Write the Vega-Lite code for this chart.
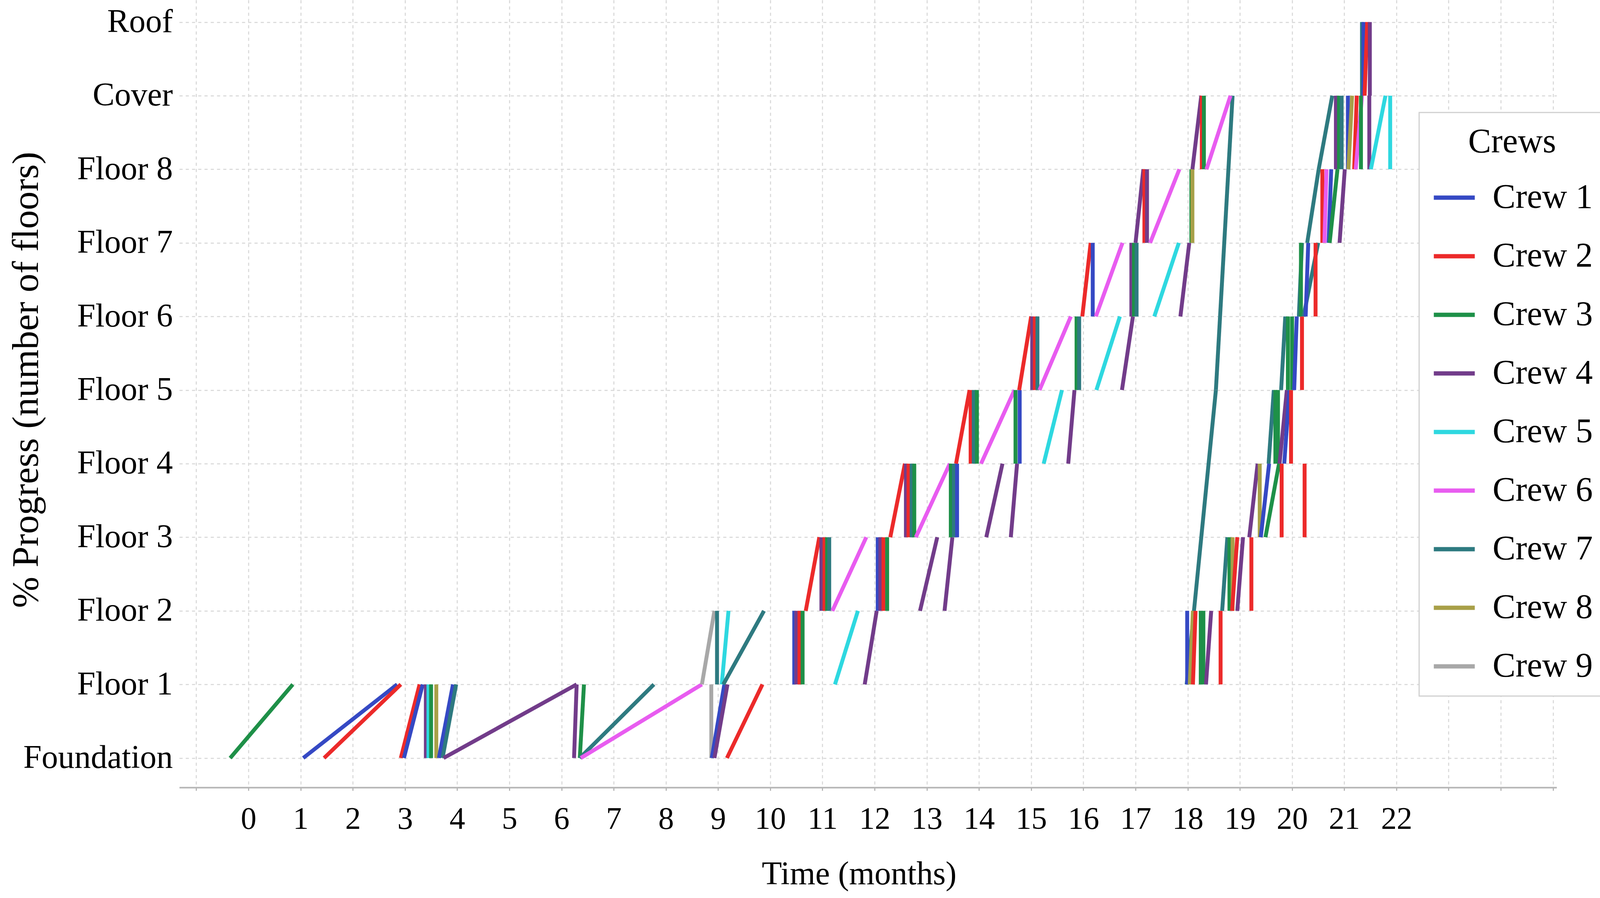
{
  "$schema": "https://vega.github.io/schema/vega-lite/v6.json",
  "width": 3526,
  "height": 2016,
  "autosize": {"type": "none"},
  "padding": {"left": 459, "top": 0, "right": 192, "bottom": 283},
  "background": "white",
  "config": {
    "view": {"stroke": null},
    "font": "Liberation Serif",
    "legend": {"strokeWidth": 3}
  },
  "data": {
    "values": [
      {"crew": "Crew 3", "t0": -0.35, "f0": 0, "t1": 0.85, "f1": 1},
      {"crew": "Crew 1", "t0": 1.05, "f0": 0, "t1": 2.85, "f1": 1},
      {"crew": "Crew 2", "t0": 1.45, "f0": 0, "t1": 2.92, "f1": 1},
      {"crew": "Crew 2", "t0": 2.92, "f0": 0, "t1": 3.28, "f1": 1},
      {"crew": "Crew 1", "t0": 2.98, "f0": 0, "t1": 3.34, "f1": 1},
      {"crew": "Crew 4", "t0": 3.4, "f0": 1, "t1": 3.4, "f1": 0},
      {"crew": "Crew 5", "t0": 3.45, "f0": 1, "t1": 3.45, "f1": 0},
      {"crew": "Crew 3", "t0": 3.5, "f0": 1, "t1": 3.5, "f1": 0},
      {"crew": "Crew 8", "t0": 3.6, "f0": 1, "t1": 3.6, "f1": 0},
      {"crew": "Crew 1", "t0": 3.65, "f0": 0, "t1": 3.92, "f1": 1},
      {"crew": "Crew 7", "t0": 3.72, "f0": 0, "t1": 3.98, "f1": 1},
      {"crew": "Crew 4", "t0": 3.74, "f0": 0, "t1": 6.29, "f1": 1},
      {"crew": "Crew 4", "t0": 6.29, "f0": 1, "t1": 6.24, "f1": 0},
      {"crew": "Crew 3", "t0": 6.43, "f0": 1, "t1": 6.35, "f1": 0},
      {"crew": "Crew 7", "t0": 6.35, "f0": 0, "t1": 7.77, "f1": 1},
      {"crew": "Crew 6", "t0": 6.37, "f0": 0, "t1": 8.69, "f1": 1},
      {"crew": "Crew 9", "t0": 8.87, "f0": 0, "t1": 8.87, "f1": 1},
      {"crew": "Crew 1", "t0": 8.88, "f0": 0, "t1": 9.12, "f1": 1},
      {"crew": "Crew 4", "t0": 8.93, "f0": 0, "t1": 9.18, "f1": 1},
      {"crew": "Crew 2", "t0": 9.17, "f0": 0, "t1": 9.85, "f1": 1},

      {"crew": "Crew 9", "t0": 8.69, "f0": 1, "t1": 8.93, "f1": 2},
      {"crew": "Crew 7", "t0": 8.98, "f0": 2, "t1": 8.98, "f1": 1},
      {"crew": "Crew 5", "t0": 9.2, "f0": 2, "t1": 9.07, "f1": 1},
      {"crew": "Crew 7", "t0": 9.1, "f0": 1, "t1": 9.88, "f1": 2},
      {"crew": "Crew 1", "t0": 10.46, "f0": 1, "t1": 10.46, "f1": 2},
      {"crew": "Crew 4", "t0": 10.5, "f0": 1, "t1": 10.5, "f1": 2},
      {"crew": "Crew 2", "t0": 10.56, "f0": 1, "t1": 10.56, "f1": 2},
      {"crew": "Crew 3", "t0": 10.62, "f0": 1, "t1": 10.62, "f1": 2},
      {"crew": "Crew 5", "t0": 11.24, "f0": 1, "t1": 11.68, "f1": 2},
      {"crew": "Crew 4", "t0": 11.81, "f0": 1, "t1": 12.04, "f1": 2},
      {"crew": "Crew 7", "t0": 17.98, "f0": 1, "t1": 18.54, "f1": 5},
      {"crew": "Crew 7", "t0": 18.54, "f0": 5, "t1": 18.86, "f1": 9},
      {"crew": "Crew 1", "t0": 17.99, "f0": 1, "t1": 17.99, "f1": 2},
      {"crew": "Crew 8", "t0": 18.04, "f0": 1, "t1": 18.1, "f1": 2},
      {"crew": "Crew 2", "t0": 18.1, "f0": 1, "t1": 18.15, "f1": 2},
      {"crew": "Crew 3", "t0": 18.25, "f0": 1, "t1": 18.25, "f1": 2},
      {"crew": "Crew 3", "t0": 18.3, "f0": 1, "t1": 18.3, "f1": 2},
      {"crew": "Crew 4", "t0": 18.35, "f0": 1, "t1": 18.45, "f1": 2},
      {"crew": "Crew 2", "t0": 18.63, "f0": 1, "t1": 18.63, "f1": 2},

      {"crew": "Crew 2", "t0": 10.68, "f0": 2, "t1": 10.94, "f1": 3},
      {"crew": "Crew 4", "t0": 10.98, "f0": 3, "t1": 10.98, "f1": 2},
      {"crew": "Crew 2", "t0": 11.04, "f0": 3, "t1": 11.04, "f1": 2},
      {"crew": "Crew 3", "t0": 11.09, "f0": 3, "t1": 11.09, "f1": 2},
      {"crew": "Crew 7", "t0": 11.13, "f0": 3, "t1": 11.13, "f1": 2},
      {"crew": "Crew 6", "t0": 11.19, "f0": 2, "t1": 11.84, "f1": 3},
      {"crew": "Crew 1", "t0": 12.06, "f0": 2, "t1": 12.06, "f1": 3},
      {"crew": "Crew 4", "t0": 12.11, "f0": 2, "t1": 12.11, "f1": 3},
      {"crew": "Crew 2", "t0": 12.17, "f0": 2, "t1": 12.17, "f1": 3},
      {"crew": "Crew 3", "t0": 12.24, "f0": 2, "t1": 12.24, "f1": 3},
      {"crew": "Crew 4", "t0": 12.87, "f0": 2, "t1": 13.2, "f1": 3},
      {"crew": "Crew 4", "t0": 13.34, "f0": 2, "t1": 13.49, "f1": 3},
      {"crew": "Crew 7", "t0": 18.66, "f0": 2, "t1": 18.76, "f1": 3},
      {"crew": "Crew 3", "t0": 18.8, "f0": 2, "t1": 18.8, "f1": 3},
      {"crew": "Crew 8", "t0": 18.86, "f0": 2, "t1": 18.86, "f1": 3},
      {"crew": "Crew 2", "t0": 18.85, "f0": 2, "t1": 18.95, "f1": 3},
      {"crew": "Crew 4", "t0": 18.95, "f0": 2, "t1": 19.06, "f1": 3},
      {"crew": "Crew 2", "t0": 19.22, "f0": 2, "t1": 19.22, "f1": 3},

      {"crew": "Crew 2", "t0": 12.3, "f0": 3, "t1": 12.58, "f1": 4},
      {"crew": "Crew 4", "t0": 12.6, "f0": 4, "t1": 12.6, "f1": 3},
      {"crew": "Crew 2", "t0": 12.65, "f0": 4, "t1": 12.65, "f1": 3},
      {"crew": "Crew 7", "t0": 12.71, "f0": 4, "t1": 12.71, "f1": 3},
      {"crew": "Crew 3", "t0": 12.76, "f0": 4, "t1": 12.76, "f1": 3},
      {"crew": "Crew 6", "t0": 12.79, "f0": 3, "t1": 13.44, "f1": 4},
      {"crew": "Crew 3", "t0": 13.46, "f0": 3, "t1": 13.46, "f1": 4},
      {"crew": "Crew 7", "t0": 13.52, "f0": 3, "t1": 13.52, "f1": 4},
      {"crew": "Crew 1", "t0": 13.58, "f0": 3, "t1": 13.58, "f1": 4},
      {"crew": "Crew 4", "t0": 14.14, "f0": 3, "t1": 14.45, "f1": 4},
      {"crew": "Crew 4", "t0": 14.61, "f0": 3, "t1": 14.73, "f1": 4},
      {"crew": "Crew 4", "t0": 19.18, "f0": 3, "t1": 19.34, "f1": 4},
      {"crew": "Crew 8", "t0": 19.38, "f0": 3, "t1": 19.38, "f1": 4},
      {"crew": "Crew 1", "t0": 19.4, "f0": 3, "t1": 19.56, "f1": 4},
      {"crew": "Crew 3", "t0": 19.49, "f0": 3, "t1": 19.75, "f1": 4},
      {"crew": "Crew 2", "t0": 19.8, "f0": 3, "t1": 19.8, "f1": 4},
      {"crew": "Crew 2", "t0": 20.24, "f0": 3, "t1": 20.24, "f1": 4},

      {"crew": "Crew 2", "t0": 13.56, "f0": 4, "t1": 13.82, "f1": 5},
      {"crew": "Crew 2", "t0": 13.84, "f0": 5, "t1": 13.84, "f1": 4},
      {"crew": "Crew 7", "t0": 13.9, "f0": 5, "t1": 13.9, "f1": 4},
      {"crew": "Crew 3", "t0": 13.96, "f0": 5, "t1": 13.96, "f1": 4},
      {"crew": "Crew 6", "t0": 14.04, "f0": 4, "t1": 14.68, "f1": 5},
      {"crew": "Crew 3", "t0": 14.7, "f0": 4, "t1": 14.7, "f1": 5},
      {"crew": "Crew 1", "t0": 14.78, "f0": 4, "t1": 14.78, "f1": 5},
      {"crew": "Crew 5", "t0": 15.24, "f0": 4, "t1": 15.59, "f1": 5},
      {"crew": "Crew 4", "t0": 15.71, "f0": 4, "t1": 15.83, "f1": 5},
      {"crew": "Crew 7", "t0": 19.55, "f0": 4, "t1": 19.65, "f1": 5},
      {"crew": "Crew 3", "t0": 19.68, "f0": 4, "t1": 19.68, "f1": 5},
      {"crew": "Crew 3", "t0": 19.73, "f0": 4, "t1": 19.73, "f1": 5},
      {"crew": "Crew 4", "t0": 19.76, "f0": 4, "t1": 19.9, "f1": 5},
      {"crew": "Crew 1", "t0": 19.85, "f0": 4, "t1": 19.95, "f1": 5},
      {"crew": "Crew 2", "t0": 19.98, "f0": 4, "t1": 19.98, "f1": 5},

      {"crew": "Crew 2", "t0": 14.77, "f0": 5, "t1": 15.0, "f1": 6},
      {"crew": "Crew 4", "t0": 15.02, "f0": 6, "t1": 15.02, "f1": 5},
      {"crew": "Crew 2", "t0": 15.07, "f0": 6, "t1": 15.07, "f1": 5},
      {"crew": "Crew 7", "t0": 15.12, "f0": 6, "t1": 15.12, "f1": 5},
      {"crew": "Crew 6", "t0": 15.16, "f0": 5, "t1": 15.76, "f1": 6},
      {"crew": "Crew 3", "t0": 15.87, "f0": 5, "t1": 15.87, "f1": 6},
      {"crew": "Crew 7", "t0": 15.92, "f0": 5, "t1": 15.92, "f1": 6},
      {"crew": "Crew 5", "t0": 16.25, "f0": 5, "t1": 16.7, "f1": 6},
      {"crew": "Crew 4", "t0": 16.74, "f0": 5, "t1": 16.95, "f1": 6},
      {"crew": "Crew 7", "t0": 19.79, "f0": 5, "t1": 19.87, "f1": 6},
      {"crew": "Crew 3", "t0": 19.92, "f0": 5, "t1": 19.92, "f1": 6},
      {"crew": "Crew 3", "t0": 20.0, "f0": 5, "t1": 20.0, "f1": 6},
      {"crew": "Crew 1", "t0": 20.04, "f0": 5, "t1": 20.09, "f1": 6},
      {"crew": "Crew 2", "t0": 20.19, "f0": 5, "t1": 20.19, "f1": 6},

      {"crew": "Crew 2", "t0": 15.98, "f0": 6, "t1": 16.14, "f1": 7},
      {"crew": "Crew 1", "t0": 16.18, "f0": 6, "t1": 16.18, "f1": 7},
      {"crew": "Crew 6", "t0": 16.24, "f0": 6, "t1": 16.75, "f1": 7},
      {"crew": "Crew 4", "t0": 16.92, "f0": 6, "t1": 16.92, "f1": 7},
      {"crew": "Crew 3", "t0": 16.97, "f0": 6, "t1": 16.97, "f1": 7},
      {"crew": "Crew 7", "t0": 17.02, "f0": 6, "t1": 17.02, "f1": 7},
      {"crew": "Crew 5", "t0": 17.36, "f0": 6, "t1": 17.83, "f1": 7},
      {"crew": "Crew 4", "t0": 17.86, "f0": 6, "t1": 18.03, "f1": 7},
      {"crew": "Crew 7", "t0": 20.13, "f0": 6, "t1": 20.19, "f1": 7},
      {"crew": "Crew 3", "t0": 20.17, "f0": 6, "t1": 20.17, "f1": 7},
      {"crew": "Crew 7", "t0": 20.22, "f0": 6, "t1": 20.5, "f1": 7},
      {"crew": "Crew 1", "t0": 20.26, "f0": 6, "t1": 20.31, "f1": 7},
      {"crew": "Crew 2", "t0": 20.45, "f0": 6, "t1": 20.45, "f1": 7},

      {"crew": "Crew 4", "t0": 17.0, "f0": 7, "t1": 17.15, "f1": 8},
      {"crew": "Crew 2", "t0": 17.17, "f0": 8, "t1": 17.17, "f1": 7},
      {"crew": "Crew 4", "t0": 17.22, "f0": 8, "t1": 17.22, "f1": 7},
      {"crew": "Crew 6", "t0": 17.28, "f0": 7, "t1": 17.84, "f1": 8},
      {"crew": "Crew 3", "t0": 18.07, "f0": 7, "t1": 18.07, "f1": 8},
      {"crew": "Crew 8", "t0": 18.09, "f0": 7, "t1": 18.09, "f1": 8},
      {"crew": "Crew 7", "t0": 20.29, "f0": 7, "t1": 20.51, "f1": 8},
      {"crew": "Crew 7", "t0": 20.51, "f0": 8, "t1": 20.77, "f1": 9},
      {"crew": "Crew 2", "t0": 20.58, "f0": 7, "t1": 20.58, "f1": 8},
      {"crew": "Crew 6", "t0": 20.62, "f0": 7, "t1": 20.66, "f1": 8},
      {"crew": "Crew 1", "t0": 20.7, "f0": 7, "t1": 20.75, "f1": 8},
      {"crew": "Crew 3", "t0": 20.72, "f0": 7, "t1": 20.87, "f1": 8},
      {"crew": "Crew 4", "t0": 20.91, "f0": 7, "t1": 21.01, "f1": 8},

      {"crew": "Crew 4", "t0": 18.09, "f0": 8, "t1": 18.26, "f1": 9},
      {"crew": "Crew 2", "t0": 18.27, "f0": 9, "t1": 18.27, "f1": 8},
      {"crew": "Crew 3", "t0": 18.31, "f0": 9, "t1": 18.31, "f1": 8},
      {"crew": "Crew 6", "t0": 18.36, "f0": 8, "t1": 18.82, "f1": 9},
      {"crew": "Crew 4", "t0": 20.84, "f0": 9, "t1": 20.84, "f1": 8},
      {"crew": "Crew 3", "t0": 20.9, "f0": 9, "t1": 20.9, "f1": 8},
      {"crew": "Crew 7", "t0": 20.95, "f0": 9, "t1": 20.95, "f1": 8},
      {"crew": "Crew 1", "t0": 21.07, "f0": 9, "t1": 21.07, "f1": 8},
      {"crew": "Crew 8", "t0": 21.08, "f0": 8, "t1": 21.15, "f1": 9},
      {"crew": "Crew 2", "t0": 21.19, "f0": 8, "t1": 21.24, "f1": 9},
      {"crew": "Crew 6", "t0": 21.22, "f0": 8, "t1": 21.34, "f1": 9},
      {"crew": "Crew 3", "t0": 21.32, "f0": 9, "t1": 21.32, "f1": 8},
      {"crew": "Crew 4", "t0": 21.48, "f0": 9, "t1": 21.48, "f1": 8},
      {"crew": "Crew 5", "t0": 21.51, "f0": 8, "t1": 21.79, "f1": 9},
      {"crew": "Crew 5", "t0": 21.88, "f0": 9, "t1": 21.88, "f1": 8},

      {"crew": "Crew 7", "t0": 21.34, "f0": 9, "t1": 21.34, "f1": 10},
      {"crew": "Crew 1", "t0": 21.37, "f0": 9, "t1": 21.37, "f1": 10},
      {"crew": "Crew 2", "t0": 21.39, "f0": 9, "t1": 21.44, "f1": 10},
      {"crew": "Crew 4", "t0": 21.49, "f0": 9, "t1": 21.49, "f1": 10}
    ]
  },
  "mark": {"type": "rule", "strokeWidth": 10},
  "encoding": {
    "x": {
      "field": "t0",
      "type": "quantitative",
      "scale": {"domain": [-1.325, 25.07], "nice": false, "zero": false},
      "axis": {
        "title": "Time (months)",
        "values": [-1, 0, 1, 2, 3, 4, 5, 6, 7, 8, 9, 10, 11, 12, 13, 14, 15, 16, 17, 18, 19, 20, 21, 22, 23, 24, 25],
        "labelExpr": "datum.value >= 0 && datum.value <= 22 ? datum.label : ''",
        "labelFontSize": 80,
        "labelColor": "black",
        "labelBaseline": "alphabetic",
        "labelPadding": 97,
        "labelFlush": false,
        "labelOverlap": false,
        "labelLimit": 0,
        "tickSize": 8,
        "tickColor": "#b5b5b5",
        "tickWidth": 3,
        "domainColor": "#b5b5b5",
        "domainWidth": 4,
        "grid": true,
        "gridColor": "#dcdcdc",
        "gridDash": [8, 8],
        "gridWidth": 3,
        "titleFontSize": 84,
        "titleFontWeight": "normal",
        "titleColor": "black",
        "titleLimit": 0,
        "titleX": 1740,
        "titleY": 247,
        "titleBaseline": "alphabetic",
        "titleAlign": "center"
      }
    },
    "x2": {"field": "t1"},
    "y": {
      "field": "f0",
      "type": "quantitative",
      "scale": {"domain": [-0.4, 10.3], "nice": false, "zero": false},
      "axis": {
        "title": "% Progress (number of floors)",
        "values": [0, 1, 2, 3, 4, 5, 6, 7, 8, 9, 10],
        "labelExpr": "['Foundation', 'Floor 1', 'Floor 2', 'Floor 3', 'Floor 4', 'Floor 5', 'Floor 6', 'Floor 7', 'Floor 8', 'Cover', 'Roof'][datum.value]",
        "labelFontSize": 84,
        "labelColor": "black",
        "labelPadding": 17,
        "labelOverlap": false,
        "labelFlush": false,
        "labelLimit": 0,
        "ticks": false,
        "domain": false,
        "grid": true,
        "gridColor": "#dcdcdc",
        "gridDash": [8, 8],
        "gridWidth": 3,
        "titleFontSize": 96,
        "titleFontWeight": "normal",
        "titleColor": "black",
        "titleLimit": 0,
        "titleAngle": -90,
        "titleX": -392,
        "titleY": 972,
        "titleBaseline": "middle",
        "titleAlign": "center"
      }
    },
    "y2": {"field": "f1"},
    "color": {
      "field": "crew",
      "type": "nominal",
      "scale": {
        "domain": ["Crew 1", "Crew 2", "Crew 3", "Crew 4", "Crew 5", "Crew 6", "Crew 7", "Crew 8", "Crew 9"],
        "range": ["#3549c4", "#ec2a2a", "#1e9048", "#723c8a", "#2ed8e0", "#e85cf0", "#2e7a80", "#a8a048", "#a8a8a8"]
      },
      "legend": {
        "title": "Crews",
        "orient": "none",
        "legendX": 3174,
        "legendY": 288,
        "padding": 32,
        "fillColor": "white",
        "strokeColor": "#d0d0d0",
        "titleFontSize": 88,
        "titleFontWeight": "normal",
        "titleColor": "black",
        "titleAnchor": "middle",
        "titlePadding": 40,
        "titleLimit": 0,
        "labelFontSize": 88,
        "labelColor": "black",
        "labelOffset": 40,
        "labelLimit": 0,
        "labelExpr": "datum.label + '\u00a0\u00a0'",
        "symbolType": "stroke",
        "symbolStrokeWidth": 11,
        "symbolSize": 11000,
        "rowPadding": 48
      }
    }
  }
}
